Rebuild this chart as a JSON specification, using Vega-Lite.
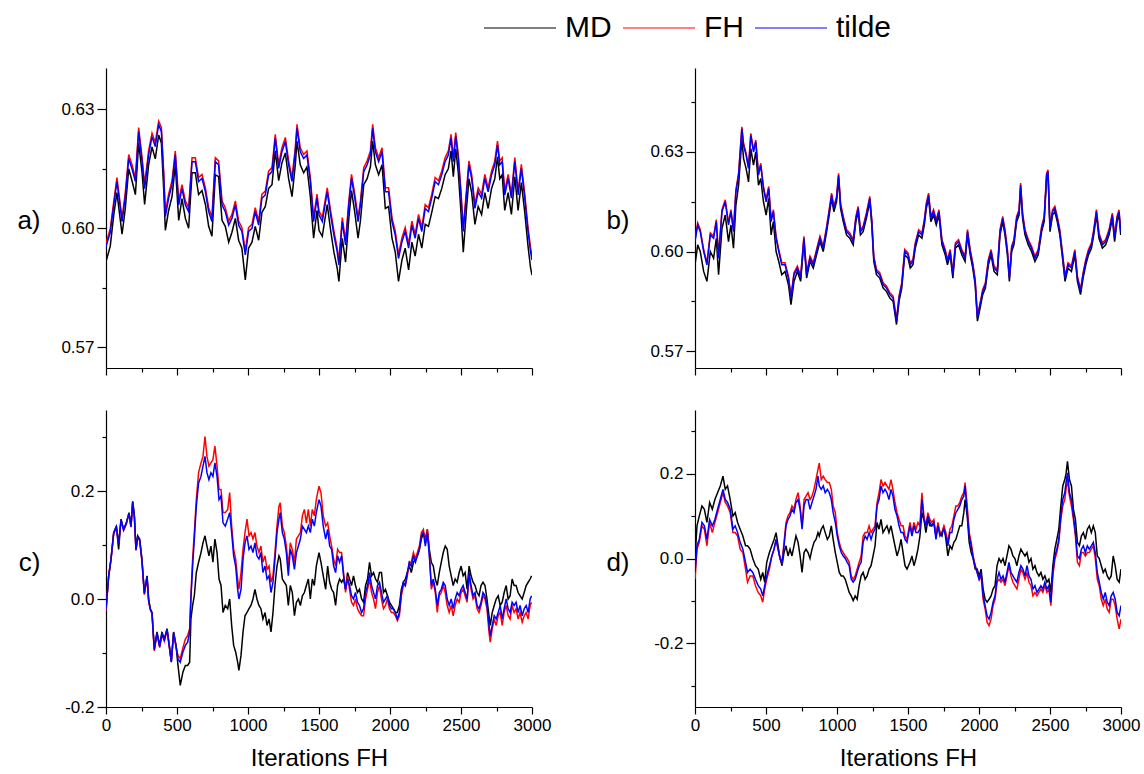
{
"$schema":"https://vega.github.io/schema/vega-lite/v6.json",
"padding":{"left":16,"top":13,"right":5,"bottom":0},
"bounds":"flush",
"columns":2,
"spacing":{"row":42,"column":163},
"config":{"font":"Liberation Sans","view":{"stroke":null},
"axis":{"domainColor":"#000000","tickColor":"#000000","labelColor":"#000000","titleColor":"#000000","grid":false,"domainWidth":1.2,"tickWidth":1.2,"labelFont":"Liberation Sans","titleFont":"Liberation Sans","labelFontSize":17,"titleFontWeight":"normal","labelFlush":false,"labelOverlap":false,"labelBound":false},
"legend":{"orient":"none","legendX":399,"legendY":-55,"direction":"horizontal","symbolType":"M-3,0L3,0","symbolSize":576,"symbolStrokeWidth":1,"labelFontSize":30,"labelFont":"Liberation Sans","labelColor":"#000000","labelOffset":30,"columnPadding":9,"padding":0}},
"datasets":{
"a":[{"x":0,"MD":0.5916,"FH":0.5962,"tilde":0.5954},{"x":30,"MD":0.5955,"FH":0.5999,"tilde":0.599},{"x":55,"MD":0.6035,"FH":0.6068,"tilde":0.606},{"x":77,"MD":0.609,"FH":0.6128,"tilde":0.6118},{"x":113,"MD":0.5985,"FH":0.6025,"tilde":0.6017},{"x":136,"MD":0.605,"FH":0.609,"tilde":0.608},{"x":160,"MD":0.615,"FH":0.6186,"tilde":0.6176},{"x":183,"MD":0.612,"FH":0.616,"tilde":0.615},{"x":207,"MD":0.6085,"FH":0.6127,"tilde":0.6118},{"x":230,"MD":0.6215,"FH":0.6254,"tilde":0.6244},{"x":254,"MD":0.614,"FH":0.6178,"tilde":0.6168},{"x":272,"MD":0.606,"FH":0.611,"tilde":0.61},{"x":300,"MD":0.616,"FH":0.6195,"tilde":0.6185},{"x":324,"MD":0.6205,"FH":0.624,"tilde":0.6231},{"x":347,"MD":0.6175,"FH":0.6216,"tilde":0.6206},{"x":371,"MD":0.6235,"FH":0.627,"tilde":0.6261},{"x":390,"MD":0.6215,"FH":0.6254,"tilde":0.6244},{"x":406,"MD":0.61,"FH":0.6144,"tilde":0.6134},{"x":418,"MD":0.5995,"FH":0.604,"tilde":0.603},{"x":441,"MD":0.6045,"FH":0.6086,"tilde":0.6076},{"x":465,"MD":0.608,"FH":0.612,"tilde":0.611},{"x":488,"MD":0.616,"FH":0.6195,"tilde":0.6185},{"x":512,"MD":0.602,"FH":0.6069,"tilde":0.6059},{"x":535,"MD":0.6075,"FH":0.611,"tilde":0.61},{"x":559,"MD":0.6025,"FH":0.6069,"tilde":0.6059},{"x":582,"MD":0.6,"FH":0.6052,"tilde":0.6042},{"x":606,"MD":0.614,"FH":0.6178,"tilde":0.6168},{"x":629,"MD":0.614,"FH":0.6178,"tilde":0.6168},{"x":652,"MD":0.6085,"FH":0.6128,"tilde":0.6118},{"x":676,"MD":0.6095,"FH":0.6136,"tilde":0.6126},{"x":700,"MD":0.606,"FH":0.6102,"tilde":0.6092},{"x":723,"MD":0.6005,"FH":0.6052,"tilde":0.6042},{"x":746,"MD":0.598,"FH":0.6027,"tilde":0.6017},{"x":770,"MD":0.6135,"FH":0.6178,"tilde":0.6168},{"x":793,"MD":0.613,"FH":0.617,"tilde":0.616},{"x":817,"MD":0.602,"FH":0.6069,"tilde":0.6059},{"x":840,"MD":0.6005,"FH":0.6052,"tilde":0.6042},{"x":864,"MD":0.5965,"FH":0.6018,"tilde":0.6008},{"x":887,"MD":0.599,"FH":0.6035,"tilde":0.6025},{"x":911,"MD":0.6025,"FH":0.6069,"tilde":0.6059},{"x":934,"MD":0.597,"FH":0.6018,"tilde":0.6008},{"x":957,"MD":0.595,"FH":0.6002,"tilde":0.5992},{"x":981,"MD":0.587,"FH":0.5943,"tilde":0.5933},{"x":1004,"MD":0.595,"FH":0.6002,"tilde":0.5992},{"x":1028,"MD":0.5965,"FH":0.601,"tilde":0.6},{"x":1051,"MD":0.6005,"FH":0.6052,"tilde":0.6042},{"x":1075,"MD":0.597,"FH":0.6018,"tilde":0.6008},{"x":1098,"MD":0.604,"FH":0.6086,"tilde":0.6076},{"x":1122,"MD":0.6055,"FH":0.6094,"tilde":0.6084},{"x":1145,"MD":0.61,"FH":0.6144,"tilde":0.6134},{"x":1169,"MD":0.611,"FH":0.6153,"tilde":0.6143},{"x":1192,"MD":0.6195,"FH":0.6237,"tilde":0.6227},{"x":1216,"MD":0.612,"FH":0.6161,"tilde":0.6151},{"x":1239,"MD":0.6165,"FH":0.6203,"tilde":0.6193},{"x":1263,"MD":0.619,"FH":0.6229,"tilde":0.6219},{"x":1286,"MD":0.6125,"FH":0.617,"tilde":0.616},{"x":1310,"MD":0.608,"FH":0.6128,"tilde":0.6118},{"x":1333,"MD":0.616,"FH":0.6203,"tilde":0.6193},{"x":1345,"MD":0.622,"FH":0.6262,"tilde":0.6252},{"x":1368,"MD":0.616,"FH":0.6203,"tilde":0.6193},{"x":1392,"MD":0.614,"FH":0.6186,"tilde":0.6176},{"x":1415,"MD":0.6155,"FH":0.6195,"tilde":0.6185},{"x":1439,"MD":0.608,"FH":0.6128,"tilde":0.6118},{"x":1462,"MD":0.5975,"FH":0.6027,"tilde":0.6017},{"x":1486,"MD":0.6045,"FH":0.6086,"tilde":0.6076},{"x":1500,"MD":0.5995,"FH":0.6044,"tilde":0.6034},{"x":1523,"MD":0.598,"FH":0.6027,"tilde":0.6017},{"x":1558,"MD":0.606,"FH":0.6102,"tilde":0.6092},{"x":1582,"MD":0.5995,"FH":0.6044,"tilde":0.6034},{"x":1605,"MD":0.594,"FH":0.5993,"tilde":0.5983},{"x":1628,"MD":0.59,"FH":0.5951,"tilde":0.5941},{"x":1640,"MD":0.5866,"FH":0.5918,"tilde":0.5908},{"x":1664,"MD":0.5975,"FH":0.6027,"tilde":0.6017},{"x":1687,"MD":0.5915,"FH":0.5968,"tilde":0.5958},{"x":1710,"MD":0.6025,"FH":0.6069,"tilde":0.6059},{"x":1729,"MD":0.6095,"FH":0.6136,"tilde":0.6126},{"x":1752,"MD":0.604,"FH":0.6086,"tilde":0.6076},{"x":1775,"MD":0.5975,"FH":0.6027,"tilde":0.6017},{"x":1792,"MD":0.602,"FH":0.6069,"tilde":0.6059},{"x":1815,"MD":0.611,"FH":0.6153,"tilde":0.6143},{"x":1839,"MD":0.6125,"FH":0.617,"tilde":0.616},{"x":1862,"MD":0.6155,"FH":0.6195,"tilde":0.6185},{"x":1878,"MD":0.622,"FH":0.6262,"tilde":0.6252},{"x":1897,"MD":0.616,"FH":0.6203,"tilde":0.6193},{"x":1920,"MD":0.6135,"FH":0.6178,"tilde":0.6168},{"x":1944,"MD":0.616,"FH":0.6203,"tilde":0.6193},{"x":1967,"MD":0.605,"FH":0.6102,"tilde":0.6092},{"x":1990,"MD":0.6055,"FH":0.6102,"tilde":0.6092},{"x":2014,"MD":0.5975,"FH":0.6027,"tilde":0.6017},{"x":2037,"MD":0.594,"FH":0.5993,"tilde":0.5983},{"x":2060,"MD":0.5866,"FH":0.5934,"tilde":0.5924},{"x":2084,"MD":0.592,"FH":0.5976,"tilde":0.5966},{"x":2107,"MD":0.595,"FH":0.6002,"tilde":0.5992},{"x":2131,"MD":0.5895,"FH":0.596,"tilde":0.595},{"x":2154,"MD":0.5965,"FH":0.6018,"tilde":0.6008},{"x":2177,"MD":0.593,"FH":0.5985,"tilde":0.5975},{"x":2201,"MD":0.5985,"FH":0.6035,"tilde":0.6025},{"x":2224,"MD":0.595,"FH":0.6002,"tilde":0.5992},{"x":2248,"MD":0.601,"FH":0.606,"tilde":0.605},{"x":2271,"MD":0.6005,"FH":0.6052,"tilde":0.6042},{"x":2294,"MD":0.604,"FH":0.6086,"tilde":0.6076},{"x":2318,"MD":0.608,"FH":0.6128,"tilde":0.6118},{"x":2341,"MD":0.6075,"FH":0.612,"tilde":0.611},{"x":2364,"MD":0.61,"FH":0.6144,"tilde":0.6134},{"x":2388,"MD":0.6135,"FH":0.6178,"tilde":0.6168},{"x":2411,"MD":0.615,"FH":0.6195,"tilde":0.6185},{"x":2430,"MD":0.6195,"FH":0.6237,"tilde":0.6227},{"x":2446,"MD":0.613,"FH":0.6178,"tilde":0.6168},{"x":2463,"MD":0.62,"FH":0.6241,"tilde":0.6231},{"x":2481,"MD":0.614,"FH":0.6186,"tilde":0.6176},{"x":2498,"MD":0.605,"FH":0.6102,"tilde":0.6092},{"x":2516,"MD":0.594,"FH":0.6002,"tilde":0.5992},{"x":2540,"MD":0.6055,"FH":0.6102,"tilde":0.6092},{"x":2556,"MD":0.6125,"FH":0.617,"tilde":0.616},{"x":2575,"MD":0.609,"FH":0.6136,"tilde":0.6126},{"x":2598,"MD":0.601,"FH":0.606,"tilde":0.605},{"x":2621,"MD":0.6055,"FH":0.6102,"tilde":0.6092},{"x":2645,"MD":0.6035,"FH":0.6086,"tilde":0.6076},{"x":2668,"MD":0.609,"FH":0.6136,"tilde":0.6126},{"x":2691,"MD":0.605,"FH":0.6102,"tilde":0.6092},{"x":2715,"MD":0.61,"FH":0.6144,"tilde":0.6134},{"x":2738,"MD":0.6125,"FH":0.617,"tilde":0.616},{"x":2757,"MD":0.618,"FH":0.622,"tilde":0.621},{"x":2773,"MD":0.6125,"FH":0.617,"tilde":0.616},{"x":2790,"MD":0.6135,"FH":0.6178,"tilde":0.6168},{"x":2808,"MD":0.6045,"FH":0.6094,"tilde":0.6084},{"x":2832,"MD":0.609,"FH":0.6136,"tilde":0.6126},{"x":2855,"MD":0.6035,"FH":0.6086,"tilde":0.6076},{"x":2879,"MD":0.613,"FH":0.6178,"tilde":0.6168},{"x":2902,"MD":0.6045,"FH":0.6094,"tilde":0.6084},{"x":2925,"MD":0.6115,"FH":0.6161,"tilde":0.6151},{"x":2949,"MD":0.604,"FH":0.6086,"tilde":0.6076},{"x":2972,"MD":0.5955,"FH":0.6002,"tilde":0.5992},{"x":2990,"MD":0.59,"FH":0.5951,"tilde":0.5941},{"x":3000,"MD":0.5882,"FH":0.593,"tilde":0.592}],
"b":[{"x":0,"MD":0.596,"FH":0.6036,"tilde":0.603},{"x":19,"MD":0.602,"FH":0.6086,"tilde":0.608},{"x":37,"MD":0.6,"FH":0.6066,"tilde":0.606},{"x":61,"MD":0.594,"FH":0.6006,"tilde":0.6},{"x":84,"MD":0.591,"FH":0.5966,"tilde":0.596},{"x":108,"MD":0.6,"FH":0.6056,"tilde":0.605},{"x":131,"MD":0.598,"FH":0.6046,"tilde":0.604},{"x":150,"MD":0.604,"FH":0.6096,"tilde":0.609},{"x":166,"MD":0.593,"FH":0.5986,"tilde":0.598},{"x":190,"MD":0.607,"FH":0.6126,"tilde":0.612},{"x":213,"MD":0.611,"FH":0.6156,"tilde":0.615},{"x":236,"MD":0.603,"FH":0.6086,"tilde":0.608},{"x":253,"MD":0.608,"FH":0.6126,"tilde":0.612},{"x":271,"MD":0.601,"FH":0.6066,"tilde":0.606},{"x":288,"MD":0.614,"FH":0.6186,"tilde":0.618},{"x":307,"MD":0.62,"FH":0.6236,"tilde":0.623},{"x":330,"MD":0.634,"FH":0.6376,"tilde":0.637},{"x":342,"MD":0.628,"FH":0.6326,"tilde":0.632},{"x":360,"MD":0.625,"FH":0.6296,"tilde":0.629},{"x":377,"MD":0.621,"FH":0.6256,"tilde":0.625},{"x":393,"MD":0.631,"FH":0.6356,"tilde":0.635},{"x":412,"MD":0.626,"FH":0.6306,"tilde":0.63},{"x":428,"MD":0.63,"FH":0.6336,"tilde":0.633},{"x":447,"MD":0.62,"FH":0.6236,"tilde":0.623},{"x":463,"MD":0.622,"FH":0.6266,"tilde":0.626},{"x":482,"MD":0.615,"FH":0.6196,"tilde":0.619},{"x":501,"MD":0.611,"FH":0.6156,"tilde":0.615},{"x":519,"MD":0.616,"FH":0.6196,"tilde":0.619},{"x":536,"MD":0.605,"FH":0.6096,"tilde":0.609},{"x":552,"MD":0.609,"FH":0.6126,"tilde":0.612},{"x":571,"MD":0.6,"FH":0.6046,"tilde":0.604},{"x":590,"MD":0.597,"FH":0.6006,"tilde":0.6},{"x":611,"MD":0.593,"FH":0.5966,"tilde":0.596},{"x":634,"MD":0.594,"FH":0.5966,"tilde":0.596},{"x":658,"MD":0.59,"FH":0.5926,"tilde":0.592},{"x":676,"MD":0.584,"FH":0.5866,"tilde":0.586},{"x":697,"MD":0.591,"FH":0.5936,"tilde":0.593},{"x":721,"MD":0.594,"FH":0.5956,"tilde":0.595},{"x":744,"MD":0.591,"FH":0.5926,"tilde":0.592},{"x":767,"MD":0.603,"FH":0.6046,"tilde":0.604},{"x":786,"MD":0.592,"FH":0.5936,"tilde":0.593},{"x":810,"MD":0.597,"FH":0.5986,"tilde":0.598},{"x":833,"MD":0.595,"FH":0.5966,"tilde":0.596},{"x":856,"MD":0.599,"FH":0.6006,"tilde":0.6},{"x":880,"MD":0.603,"FH":0.6046,"tilde":0.604},{"x":903,"MD":0.6,"FH":0.6016,"tilde":0.601},{"x":927,"MD":0.606,"FH":0.6076,"tilde":0.607},{"x":945,"MD":0.611,"FH":0.6126,"tilde":0.612},{"x":962,"MD":0.616,"FH":0.6176,"tilde":0.617},{"x":978,"MD":0.612,"FH":0.6136,"tilde":0.613},{"x":997,"MD":0.615,"FH":0.6166,"tilde":0.616},{"x":1011,"MD":0.622,"FH":0.6236,"tilde":0.623},{"x":1025,"MD":0.613,"FH":0.6146,"tilde":0.614},{"x":1044,"MD":0.609,"FH":0.6106,"tilde":0.61},{"x":1067,"MD":0.605,"FH":0.6066,"tilde":0.606},{"x":1090,"MD":0.604,"FH":0.6056,"tilde":0.605},{"x":1114,"MD":0.602,"FH":0.6036,"tilde":0.603},{"x":1133,"MD":0.609,"FH":0.6106,"tilde":0.61},{"x":1149,"MD":0.612,"FH":0.6136,"tilde":0.613},{"x":1165,"MD":0.605,"FH":0.6066,"tilde":0.606},{"x":1184,"MD":0.606,"FH":0.6076,"tilde":0.607},{"x":1207,"MD":0.61,"FH":0.6116,"tilde":0.611},{"x":1231,"MD":0.615,"FH":0.6166,"tilde":0.616},{"x":1245,"MD":0.608,"FH":0.6096,"tilde":0.609},{"x":1259,"MD":0.597,"FH":0.5986,"tilde":0.598},{"x":1278,"MD":0.593,"FH":0.5946,"tilde":0.594},{"x":1301,"MD":0.592,"FH":0.5936,"tilde":0.593},{"x":1325,"MD":0.589,"FH":0.5906,"tilde":0.59},{"x":1348,"MD":0.588,"FH":0.5896,"tilde":0.589},{"x":1372,"MD":0.586,"FH":0.5876,"tilde":0.587},{"x":1395,"MD":0.585,"FH":0.5866,"tilde":0.586},{"x":1419,"MD":0.578,"FH":0.5796,"tilde":0.579},{"x":1437,"MD":0.585,"FH":0.5866,"tilde":0.586},{"x":1456,"MD":0.589,"FH":0.5906,"tilde":0.59},{"x":1477,"MD":0.599,"FH":0.6006,"tilde":0.6},{"x":1500,"MD":0.598,"FH":0.5996,"tilde":0.599},{"x":1516,"MD":0.595,"FH":0.5966,"tilde":0.596},{"x":1535,"MD":0.596,"FH":0.5976,"tilde":0.597},{"x":1551,"MD":0.601,"FH":0.6026,"tilde":0.602},{"x":1575,"MD":0.605,"FH":0.6066,"tilde":0.606},{"x":1598,"MD":0.604,"FH":0.6056,"tilde":0.605},{"x":1615,"MD":0.608,"FH":0.6096,"tilde":0.609},{"x":1629,"MD":0.613,"FH":0.6146,"tilde":0.614},{"x":1645,"MD":0.616,"FH":0.6176,"tilde":0.617},{"x":1661,"MD":0.609,"FH":0.6106,"tilde":0.61},{"x":1680,"MD":0.611,"FH":0.6126,"tilde":0.612},{"x":1699,"MD":0.608,"FH":0.6096,"tilde":0.609},{"x":1718,"MD":0.611,"FH":0.6126,"tilde":0.612},{"x":1739,"MD":0.602,"FH":0.6036,"tilde":0.603},{"x":1762,"MD":0.599,"FH":0.6006,"tilde":0.6},{"x":1778,"MD":0.596,"FH":0.5976,"tilde":0.597},{"x":1797,"MD":0.599,"FH":0.6006,"tilde":0.6},{"x":1816,"MD":0.592,"FH":0.5936,"tilde":0.593},{"x":1834,"MD":0.601,"FH":0.6026,"tilde":0.602},{"x":1856,"MD":0.602,"FH":0.6036,"tilde":0.603},{"x":1879,"MD":0.599,"FH":0.6006,"tilde":0.6},{"x":1902,"MD":0.597,"FH":0.5986,"tilde":0.598},{"x":1919,"MD":0.605,"FH":0.6066,"tilde":0.606},{"x":1938,"MD":0.599,"FH":0.6006,"tilde":0.6},{"x":1956,"MD":0.595,"FH":0.5966,"tilde":0.596},{"x":1973,"MD":0.59,"FH":0.5916,"tilde":0.591},{"x":1989,"MD":0.579,"FH":0.5806,"tilde":0.58},{"x":2008,"MD":0.583,"FH":0.5846,"tilde":0.584},{"x":2026,"MD":0.587,"FH":0.5886,"tilde":0.588},{"x":2045,"MD":0.589,"FH":0.5906,"tilde":0.59},{"x":2066,"MD":0.596,"FH":0.5976,"tilde":0.597},{"x":2085,"MD":0.599,"FH":0.6006,"tilde":0.6},{"x":2106,"MD":0.594,"FH":0.5956,"tilde":0.595},{"x":2129,"MD":0.593,"FH":0.5946,"tilde":0.594},{"x":2148,"MD":0.605,"FH":0.6066,"tilde":0.606},{"x":2167,"MD":0.609,"FH":0.6106,"tilde":0.61},{"x":2183,"MD":0.605,"FH":0.6066,"tilde":0.606},{"x":2200,"MD":0.599,"FH":0.6006,"tilde":0.6},{"x":2214,"MD":0.591,"FH":0.5926,"tilde":0.592},{"x":2230,"MD":0.6,"FH":0.6016,"tilde":0.601},{"x":2246,"MD":0.602,"FH":0.6036,"tilde":0.603},{"x":2265,"MD":0.609,"FH":0.6106,"tilde":0.61},{"x":2282,"MD":0.611,"FH":0.6126,"tilde":0.612},{"x":2293,"MD":0.619,"FH":0.6206,"tilde":0.62},{"x":2307,"MD":0.61,"FH":0.6116,"tilde":0.611},{"x":2324,"MD":0.605,"FH":0.6066,"tilde":0.606},{"x":2347,"MD":0.602,"FH":0.6036,"tilde":0.603},{"x":2370,"MD":0.6,"FH":0.6016,"tilde":0.601},{"x":2394,"MD":0.597,"FH":0.5986,"tilde":0.598},{"x":2417,"MD":0.599,"FH":0.6006,"tilde":0.6},{"x":2441,"MD":0.606,"FH":0.6076,"tilde":0.607},{"x":2459,"MD":0.609,"FH":0.6106,"tilde":0.61},{"x":2476,"MD":0.622,"FH":0.6236,"tilde":0.623},{"x":2486,"MD":0.623,"FH":0.6246,"tilde":0.624},{"x":2500,"MD":0.606,"FH":0.6076,"tilde":0.607},{"x":2518,"MD":0.611,"FH":0.6126,"tilde":0.612},{"x":2534,"MD":0.612,"FH":0.6136,"tilde":0.613},{"x":2551,"MD":0.609,"FH":0.6106,"tilde":0.61},{"x":2569,"MD":0.605,"FH":0.6066,"tilde":0.606},{"x":2588,"MD":0.598,"FH":0.5996,"tilde":0.599},{"x":2606,"MD":0.591,"FH":0.5926,"tilde":0.592},{"x":2627,"MD":0.595,"FH":0.5966,"tilde":0.596},{"x":2651,"MD":0.594,"FH":0.5956,"tilde":0.595},{"x":2675,"MD":0.599,"FH":0.6006,"tilde":0.6},{"x":2693,"MD":0.591,"FH":0.5926,"tilde":0.592},{"x":2715,"MD":0.587,"FH":0.5886,"tilde":0.588},{"x":2733,"MD":0.592,"FH":0.5936,"tilde":0.593},{"x":2752,"MD":0.596,"FH":0.5976,"tilde":0.597},{"x":2771,"MD":0.599,"FH":0.6006,"tilde":0.6},{"x":2792,"MD":0.601,"FH":0.6026,"tilde":0.602},{"x":2808,"MD":0.605,"FH":0.6066,"tilde":0.606},{"x":2827,"MD":0.611,"FH":0.6126,"tilde":0.612},{"x":2845,"MD":0.604,"FH":0.6056,"tilde":0.605},{"x":2869,"MD":0.601,"FH":0.6026,"tilde":0.602},{"x":2892,"MD":0.602,"FH":0.6036,"tilde":0.603},{"x":2916,"MD":0.605,"FH":0.6066,"tilde":0.606},{"x":2939,"MD":0.61,"FH":0.6116,"tilde":0.611},{"x":2955,"MD":0.603,"FH":0.6046,"tilde":0.604},{"x":2972,"MD":0.609,"FH":0.6106,"tilde":0.61},{"x":2986,"MD":0.611,"FH":0.6126,"tilde":0.612},{"x":2998,"MD":0.605,"FH":0.6066,"tilde":0.606}],
"c":[{"x":0,"MD":-0.018,"FH":-0.022,"tilde":-0.02},{"x":19,"MD":0.043,"FH":0.043,"tilde":0.043},{"x":35,"MD":0.074,"FH":0.072,"tilde":0.073},{"x":54,"MD":0.123,"FH":0.12,"tilde":0.122},{"x":73,"MD":0.135,"FH":0.133,"tilde":0.134},{"x":89,"MD":0.092,"FH":0.104,"tilde":0.102},{"x":106,"MD":0.148,"FH":0.146,"tilde":0.147},{"x":124,"MD":0.129,"FH":0.127,"tilde":0.128},{"x":143,"MD":0.141,"FH":0.139,"tilde":0.14},{"x":162,"MD":0.16,"FH":0.158,"tilde":0.159},{"x":176,"MD":0.135,"FH":0.133,"tilde":0.134},{"x":188,"MD":0.181,"FH":0.179,"tilde":0.18},{"x":200,"MD":0.154,"FH":0.15,"tilde":0.152},{"x":211,"MD":0.092,"FH":0.09,"tilde":0.091},{"x":223,"MD":0.117,"FH":0.113,"tilde":0.115},{"x":237,"MD":0.111,"FH":0.108,"tilde":0.11},{"x":253,"MD":0.074,"FH":0.07,"tilde":0.072},{"x":270,"MD":0.012,"FH":0.008,"tilde":0.01},{"x":289,"MD":0.043,"FH":0.04,"tilde":0.042},{"x":300,"MD":0.0,"FH":-0.004,"tilde":-0.002},{"x":312,"MD":-0.018,"FH":-0.02,"tilde":-0.019},{"x":324,"MD":-0.025,"FH":-0.027,"tilde":-0.026},{"x":340,"MD":-0.092,"FH":-0.096,"tilde":-0.094},{"x":359,"MD":-0.061,"FH":-0.065,"tilde":-0.063},{"x":378,"MD":-0.086,"FH":-0.09,"tilde":-0.088},{"x":394,"MD":-0.061,"FH":-0.066,"tilde":-0.064},{"x":411,"MD":-0.074,"FH":-0.078,"tilde":-0.076},{"x":430,"MD":-0.055,"FH":-0.058,"tilde":-0.056},{"x":446,"MD":-0.086,"FH":-0.09,"tilde":-0.088},{"x":460,"MD":-0.117,"FH":-0.115,"tilde":-0.116},{"x":476,"MD":-0.061,"FH":-0.064,"tilde":-0.062},{"x":493,"MD":-0.086,"FH":-0.088,"tilde":-0.087},{"x":507,"MD":-0.123,"FH":-0.105,"tilde":-0.111},{"x":523,"MD":-0.16,"FH":-0.11,"tilde":-0.117},{"x":542,"MD":-0.135,"FH":-0.09,"tilde":-0.098},{"x":559,"MD":-0.123,"FH":-0.074,"tilde":-0.086},{"x":575,"MD":-0.123,"FH":-0.068,"tilde":-0.08},{"x":589,"MD":-0.117,"FH":-0.055,"tilde":-0.061},{"x":598,"MD":-0.037,"FH":0.006,"tilde":0.0},{"x":610,"MD":-0.012,"FH":0.074,"tilde":0.061},{"x":622,"MD":0.006,"FH":0.123,"tilde":0.111},{"x":636,"MD":0.049,"FH":0.184,"tilde":0.172},{"x":652,"MD":0.068,"FH":0.234,"tilde":0.215},{"x":669,"MD":0.086,"FH":0.252,"tilde":0.227},{"x":683,"MD":0.104,"FH":0.264,"tilde":0.246},{"x":697,"MD":0.117,"FH":0.301,"tilde":0.264},{"x":711,"MD":0.098,"FH":0.264,"tilde":0.234},{"x":725,"MD":0.08,"FH":0.246,"tilde":0.221},{"x":739,"MD":0.098,"FH":0.252,"tilde":0.234},{"x":753,"MD":0.068,"FH":0.258,"tilde":0.227},{"x":767,"MD":0.111,"FH":0.283,"tilde":0.252},{"x":782,"MD":0.086,"FH":0.246,"tilde":0.227},{"x":796,"MD":0.037,"FH":0.203,"tilde":0.184},{"x":810,"MD":0.025,"FH":0.203,"tilde":0.191},{"x":824,"MD":-0.025,"FH":0.16,"tilde":0.141},{"x":840,"MD":-0.012,"FH":0.16,"tilde":0.135},{"x":857,"MD":-0.018,"FH":0.166,"tilde":0.148},{"x":871,"MD":0.0,"FH":0.197,"tilde":0.16},{"x":885,"MD":-0.049,"FH":0.135,"tilde":0.123},{"x":899,"MD":-0.086,"FH":0.092,"tilde":0.08},{"x":913,"MD":-0.098,"FH":0.074,"tilde":0.061},{"x":927,"MD":-0.117,"FH":0.037,"tilde":0.018},{"x":936,"MD":-0.132,"FH":0.018,"tilde":0.0},{"x":951,"MD":-0.104,"FH":0.049,"tilde":0.018},{"x":965,"MD":-0.061,"FH":0.092,"tilde":0.074},{"x":979,"MD":-0.031,"FH":0.123,"tilde":0.104},{"x":993,"MD":-0.025,"FH":0.148,"tilde":0.117},{"x":1007,"MD":-0.018,"FH":0.117,"tilde":0.092},{"x":1021,"MD":-0.012,"FH":0.123,"tilde":0.098},{"x":1035,"MD":0.0,"FH":0.111,"tilde":0.086},{"x":1049,"MD":0.018,"FH":0.123,"tilde":0.104},{"x":1063,"MD":0.0,"FH":0.098,"tilde":0.08},{"x":1077,"MD":-0.012,"FH":0.086,"tilde":0.074},{"x":1091,"MD":-0.018,"FH":0.098,"tilde":0.086},{"x":1105,"MD":-0.037,"FH":0.068,"tilde":0.049},{"x":1120,"MD":-0.025,"FH":0.08,"tilde":0.061},{"x":1134,"MD":-0.049,"FH":0.055,"tilde":0.037},{"x":1148,"MD":-0.037,"FH":0.061,"tilde":0.043},{"x":1162,"MD":-0.061,"FH":0.031,"tilde":0.012},{"x":1176,"MD":-0.025,"FH":0.043,"tilde":0.031},{"x":1190,"MD":0.025,"FH":0.086,"tilde":0.074},{"x":1204,"MD":0.061,"FH":0.135,"tilde":0.123},{"x":1218,"MD":0.08,"FH":0.172,"tilde":0.148},{"x":1227,"MD":0.074,"FH":0.178,"tilde":0.16},{"x":1242,"MD":0.037,"FH":0.135,"tilde":0.123},{"x":1256,"MD":0.031,"FH":0.123,"tilde":0.111},{"x":1270,"MD":0.025,"FH":0.098,"tilde":0.086},{"x":1284,"MD":-0.012,"FH":0.061,"tilde":0.043},{"x":1298,"MD":0.025,"FH":0.104,"tilde":0.092},{"x":1312,"MD":0.012,"FH":0.092,"tilde":0.08},{"x":1327,"MD":-0.031,"FH":0.068,"tilde":0.055},{"x":1341,"MD":-0.006,"FH":0.111,"tilde":0.086},{"x":1355,"MD":0.0,"FH":0.117,"tilde":0.098},{"x":1369,"MD":-0.012,"FH":0.123,"tilde":0.111},{"x":1383,"MD":0.006,"FH":0.154,"tilde":0.135},{"x":1397,"MD":0.012,"FH":0.166,"tilde":0.129},{"x":1411,"MD":0.025,"FH":0.141,"tilde":0.123},{"x":1425,"MD":0.037,"FH":0.166,"tilde":0.135},{"x":1439,"MD":0.0,"FH":0.135,"tilde":0.123},{"x":1453,"MD":0.037,"FH":0.166,"tilde":0.148},{"x":1467,"MD":0.025,"FH":0.154,"tilde":0.135},{"x":1481,"MD":0.061,"FH":0.184,"tilde":0.16},{"x":1500,"MD":0.086,"FH":0.209,"tilde":0.184},{"x":1514,"MD":0.068,"FH":0.197,"tilde":0.172},{"x":1530,"MD":0.043,"FH":0.154,"tilde":0.135},{"x":1547,"MD":0.018,"FH":0.135,"tilde":0.111},{"x":1561,"MD":0.061,"FH":0.141,"tilde":0.129},{"x":1575,"MD":0.031,"FH":0.117,"tilde":0.098},{"x":1589,"MD":0.018,"FH":0.098,"tilde":0.092},{"x":1603,"MD":0.012,"FH":0.074,"tilde":0.061},{"x":1617,"MD":-0.012,"FH":0.061,"tilde":0.049},{"x":1631,"MD":0.025,"FH":0.092,"tilde":0.08},{"x":1645,"MD":0.037,"FH":0.086,"tilde":0.068},{"x":1659,"MD":0.031,"FH":0.086,"tilde":0.08},{"x":1673,"MD":0.037,"FH":0.049,"tilde":0.043},{"x":1687,"MD":0.018,"FH":0.012,"tilde":0.018},{"x":1701,"MD":0.049,"FH":0.043,"tilde":0.037},{"x":1715,"MD":0.037,"FH":0.018,"tilde":0.025},{"x":1729,"MD":0.025,"FH":-0.006,"tilde":0.006},{"x":1743,"MD":0.043,"FH":-0.012,"tilde":0.0},{"x":1757,"MD":0.025,"FH":0.0,"tilde":0.012},{"x":1771,"MD":0.012,"FH":-0.018,"tilde":-0.006},{"x":1785,"MD":0.018,"FH":-0.025,"tilde":-0.012},{"x":1800,"MD":0.0,"FH":-0.031,"tilde":-0.025},{"x":1814,"MD":-0.006,"FH":-0.031,"tilde":-0.018},{"x":1828,"MD":0.025,"FH":0.0,"tilde":0.012},{"x":1842,"MD":0.037,"FH":0.018,"tilde":0.025},{"x":1856,"MD":0.068,"FH":0.037,"tilde":0.049},{"x":1870,"MD":0.043,"FH":0.012,"tilde":0.025},{"x":1884,"MD":0.049,"FH":0.0,"tilde":0.012},{"x":1898,"MD":0.037,"FH":-0.018,"tilde":0.0},{"x":1912,"MD":0.031,"FH":0.012,"tilde":0.025},{"x":1926,"MD":0.049,"FH":0.025,"tilde":0.031},{"x":1940,"MD":0.049,"FH":0.0,"tilde":0.012},{"x":1954,"MD":0.012,"FH":-0.018,"tilde":-0.006},{"x":1968,"MD":0.018,"FH":-0.012,"tilde":0.0},{"x":1982,"MD":0.006,"FH":0.0,"tilde":0.006},{"x":1996,"MD":-0.006,"FH":-0.018,"tilde":-0.012},{"x":2010,"MD":-0.012,"FH":-0.025,"tilde":-0.018},{"x":2024,"MD":-0.018,"FH":-0.025,"tilde":-0.018},{"x":2038,"MD":-0.025,"FH":-0.031,"tilde":-0.025},{"x":2052,"MD":-0.025,"FH":-0.04,"tilde":-0.037},{"x":2066,"MD":-0.012,"FH":-0.031,"tilde":-0.025},{"x":2080,"MD":0.018,"FH":0.006,"tilde":0.012},{"x":2094,"MD":0.031,"FH":0.025,"tilde":0.031},{"x":2108,"MD":0.037,"FH":0.025,"tilde":0.025},{"x":2122,"MD":0.049,"FH":0.043,"tilde":0.049},{"x":2136,"MD":0.061,"FH":0.068,"tilde":0.068},{"x":2150,"MD":0.049,"FH":0.068,"tilde":0.061},{"x":2165,"MD":0.068,"FH":0.086,"tilde":0.08},{"x":2179,"MD":0.074,"FH":0.074,"tilde":0.068},{"x":2193,"MD":0.08,"FH":0.086,"tilde":0.08},{"x":2207,"MD":0.092,"FH":0.098,"tilde":0.092},{"x":2221,"MD":0.111,"FH":0.123,"tilde":0.117},{"x":2235,"MD":0.123,"FH":0.129,"tilde":0.123},{"x":2249,"MD":0.111,"FH":0.104,"tilde":0.098},{"x":2263,"MD":0.129,"FH":0.129,"tilde":0.123},{"x":2277,"MD":0.092,"FH":0.086,"tilde":0.08},{"x":2291,"MD":0.068,"FH":0.018,"tilde":0.025},{"x":2305,"MD":0.061,"FH":0.031,"tilde":0.037},{"x":2319,"MD":0.037,"FH":0.012,"tilde":0.018},{"x":2333,"MD":0.025,"FH":-0.025,"tilde":-0.012},{"x":2347,"MD":0.049,"FH":0.006,"tilde":0.012},{"x":2361,"MD":0.068,"FH":0.012,"tilde":0.018},{"x":2375,"MD":0.086,"FH":0.025,"tilde":0.031},{"x":2389,"MD":0.098,"FH":0.012,"tilde":0.025},{"x":2403,"MD":0.092,"FH":-0.012,"tilde":0.0},{"x":2417,"MD":0.061,"FH":-0.025,"tilde":-0.012},{"x":2431,"MD":0.043,"FH":-0.012,"tilde":0.0},{"x":2445,"MD":0.025,"FH":-0.031,"tilde":-0.018},{"x":2459,"MD":0.037,"FH":-0.012,"tilde":0.0},{"x":2473,"MD":0.031,"FH":0.0,"tilde":0.012},{"x":2487,"MD":0.049,"FH":-0.006,"tilde":0.006},{"x":2501,"MD":0.061,"FH":0.012,"tilde":0.018},{"x":2515,"MD":0.043,"FH":0.018,"tilde":0.025},{"x":2529,"MD":0.049,"FH":0.006,"tilde":0.012},{"x":2543,"MD":0.018,"FH":-0.006,"tilde":0.0},{"x":2557,"MD":0.061,"FH":0.043,"tilde":0.049},{"x":2571,"MD":0.043,"FH":0.018,"tilde":0.025},{"x":2585,"MD":0.031,"FH":0.0,"tilde":0.006},{"x":2599,"MD":0.025,"FH":0.006,"tilde":0.012},{"x":2613,"MD":0.012,"FH":-0.018,"tilde":-0.012},{"x":2627,"MD":0.006,"FH":-0.025,"tilde":-0.018},{"x":2641,"MD":0.025,"FH":-0.012,"tilde":-0.006},{"x":2655,"MD":0.031,"FH":0.006,"tilde":0.012},{"x":2669,"MD":0.025,"FH":0.0,"tilde":0.006},{"x":2683,"MD":0.0,"FH":-0.018,"tilde":-0.012},{"x":2697,"MD":-0.031,"FH":-0.061,"tilde":-0.049},{"x":2706,"MD":-0.049,"FH":-0.08,"tilde":-0.068},{"x":2720,"MD":-0.025,"FH":-0.055,"tilde":-0.049},{"x":2734,"MD":-0.012,"FH":-0.037,"tilde":-0.031},{"x":2748,"MD":0.0,"FH":-0.049,"tilde":-0.037},{"x":2762,"MD":0.006,"FH":-0.031,"tilde":-0.025},{"x":2776,"MD":-0.012,"FH":-0.025,"tilde":-0.012},{"x":2790,"MD":-0.006,"FH":-0.049,"tilde":-0.037},{"x":2804,"MD":0.012,"FH":-0.025,"tilde":-0.018},{"x":2818,"MD":0.025,"FH":-0.012,"tilde":0.0},{"x":2832,"MD":0.0,"FH":-0.031,"tilde":-0.018},{"x":2846,"MD":0.006,"FH":-0.037,"tilde":-0.025},{"x":2860,"MD":0.037,"FH":-0.012,"tilde":-0.006},{"x":2874,"MD":0.025,"FH":-0.025,"tilde":-0.012},{"x":2888,"MD":0.025,"FH":-0.018,"tilde":-0.006},{"x":2902,"MD":0.012,"FH":-0.037,"tilde":-0.025},{"x":2916,"MD":0.006,"FH":-0.025,"tilde":-0.012},{"x":2931,"MD":0.0,"FH":-0.043,"tilde":-0.031},{"x":2945,"MD":0.012,"FH":-0.031,"tilde":-0.018},{"x":2959,"MD":0.025,"FH":-0.025,"tilde":-0.012},{"x":2973,"MD":0.031,"FH":-0.037,"tilde":-0.025},{"x":2987,"MD":0.037,"FH":-0.012,"tilde":0.0},{"x":2997,"MD":0.043,"FH":-0.006,"tilde":0.006}],
"d":[{"x":0,"MD":0.0,"FH":-0.049,"tilde":-0.033},{"x":14,"MD":0.077,"FH":0.022,"tilde":0.03},{"x":30,"MD":0.1,"FH":0.038,"tilde":0.045},{"x":49,"MD":0.124,"FH":0.077,"tilde":0.085},{"x":66,"MD":0.116,"FH":0.069,"tilde":0.077},{"x":84,"MD":0.085,"FH":0.03,"tilde":0.045},{"x":103,"MD":0.132,"FH":0.085,"tilde":0.092},{"x":122,"MD":0.116,"FH":0.061,"tilde":0.077},{"x":140,"MD":0.139,"FH":0.085,"tilde":0.092},{"x":159,"MD":0.155,"FH":0.108,"tilde":0.116},{"x":178,"MD":0.171,"FH":0.132,"tilde":0.139},{"x":197,"MD":0.194,"FH":0.155,"tilde":0.163},{"x":213,"MD":0.163,"FH":0.132,"tilde":0.139},{"x":229,"MD":0.171,"FH":0.124,"tilde":0.132},{"x":248,"MD":0.139,"FH":0.108,"tilde":0.116},{"x":267,"MD":0.1,"FH":0.061,"tilde":0.069},{"x":283,"MD":0.108,"FH":0.061,"tilde":0.077},{"x":300,"MD":0.085,"FH":0.053,"tilde":0.061},{"x":318,"MD":0.069,"FH":0.022,"tilde":0.038},{"x":337,"MD":0.053,"FH":0.014,"tilde":0.022},{"x":356,"MD":0.03,"FH":-0.025,"tilde":-0.009},{"x":370,"MD":0.03,"FH":-0.056,"tilde":-0.033},{"x":388,"MD":0.022,"FH":-0.041,"tilde":-0.025},{"x":407,"MD":0.0,"FH":-0.041,"tilde":-0.033},{"x":426,"MD":-0.017,"FH":-0.064,"tilde":-0.049},{"x":445,"MD":-0.025,"FH":-0.08,"tilde":-0.064},{"x":463,"MD":-0.049,"FH":-0.088,"tilde":-0.072},{"x":477,"MD":-0.033,"FH":-0.103,"tilde":-0.088},{"x":491,"MD":-0.056,"FH":-0.072,"tilde":-0.064},{"x":505,"MD":-0.009,"FH":-0.049,"tilde":-0.041},{"x":524,"MD":0.014,"FH":-0.025,"tilde":-0.017},{"x":541,"MD":0.03,"FH":0.006,"tilde":0.006},{"x":557,"MD":0.045,"FH":0.022,"tilde":0.022},{"x":571,"MD":0.061,"FH":0.045,"tilde":0.045},{"x":585,"MD":0.03,"FH":0.022,"tilde":0.022},{"x":599,"MD":0.0,"FH":0.0,"tilde":0.0},{"x":613,"MD":-0.017,"FH":-0.009,"tilde":-0.009},{"x":627,"MD":0.014,"FH":0.038,"tilde":0.03},{"x":641,"MD":0.03,"FH":0.085,"tilde":0.077},{"x":655,"MD":0.006,"FH":0.1,"tilde":0.092},{"x":669,"MD":0.022,"FH":0.108,"tilde":0.1},{"x":683,"MD":0.006,"FH":0.124,"tilde":0.116},{"x":697,"MD":0.03,"FH":0.116,"tilde":0.108},{"x":711,"MD":0.053,"FH":0.139,"tilde":0.132},{"x":726,"MD":0.038,"FH":0.155,"tilde":0.139},{"x":740,"MD":0.006,"FH":0.124,"tilde":0.116},{"x":754,"MD":-0.033,"FH":0.077,"tilde":0.069},{"x":768,"MD":0.014,"FH":0.139,"tilde":0.124},{"x":782,"MD":0.022,"FH":0.147,"tilde":0.139},{"x":796,"MD":0.014,"FH":0.155,"tilde":0.139},{"x":810,"MD":0.0,"FH":0.139,"tilde":0.116},{"x":824,"MD":0.022,"FH":0.147,"tilde":0.132},{"x":838,"MD":0.038,"FH":0.163,"tilde":0.147},{"x":852,"MD":0.045,"FH":0.186,"tilde":0.163},{"x":866,"MD":0.061,"FH":0.21,"tilde":0.194},{"x":875,"MD":0.053,"FH":0.225,"tilde":0.171},{"x":889,"MD":0.069,"FH":0.186,"tilde":0.163},{"x":903,"MD":0.077,"FH":0.194,"tilde":0.171},{"x":917,"MD":0.061,"FH":0.186,"tilde":0.155},{"x":932,"MD":0.045,"FH":0.179,"tilde":0.163},{"x":946,"MD":0.053,"FH":0.179,"tilde":0.155},{"x":960,"MD":0.077,"FH":0.163,"tilde":0.139},{"x":973,"MD":0.045,"FH":0.124,"tilde":0.108},{"x":988,"MD":0.014,"FH":0.108,"tilde":0.085},{"x":1002,"MD":-0.009,"FH":0.061,"tilde":0.053},{"x":1016,"MD":-0.033,"FH":0.038,"tilde":0.03},{"x":1030,"MD":-0.041,"FH":0.022,"tilde":0.014},{"x":1044,"MD":-0.041,"FH":0.014,"tilde":0.006},{"x":1058,"MD":-0.049,"FH":0.006,"tilde":0.0},{"x":1072,"MD":-0.064,"FH":0.0,"tilde":-0.009},{"x":1086,"MD":-0.08,"FH":-0.009,"tilde":-0.017},{"x":1100,"MD":-0.088,"FH":-0.041,"tilde":-0.049},{"x":1114,"MD":-0.099,"FH":-0.049,"tilde":-0.056},{"x":1128,"MD":-0.088,"FH":-0.041,"tilde":-0.049},{"x":1142,"MD":-0.096,"FH":-0.025,"tilde":-0.033},{"x":1156,"MD":-0.064,"FH":-0.009,"tilde":-0.017},{"x":1170,"MD":-0.041,"FH":0.006,"tilde":-0.009},{"x":1184,"MD":-0.033,"FH":0.053,"tilde":0.038},{"x":1198,"MD":-0.049,"FH":0.061,"tilde":0.053},{"x":1212,"MD":-0.041,"FH":0.061,"tilde":0.045},{"x":1226,"MD":-0.025,"FH":0.077,"tilde":0.061},{"x":1240,"MD":-0.017,"FH":0.061,"tilde":0.045},{"x":1254,"MD":0.006,"FH":0.069,"tilde":0.061},{"x":1268,"MD":0.03,"FH":0.077,"tilde":0.069},{"x":1282,"MD":0.085,"FH":0.132,"tilde":0.124},{"x":1296,"MD":0.069,"FH":0.155,"tilde":0.139},{"x":1310,"MD":0.092,"FH":0.186,"tilde":0.171},{"x":1324,"MD":0.061,"FH":0.171,"tilde":0.155},{"x":1338,"MD":0.069,"FH":0.179,"tilde":0.163},{"x":1352,"MD":0.077,"FH":0.171,"tilde":0.155},{"x":1366,"MD":0.061,"FH":0.163,"tilde":0.139},{"x":1380,"MD":0.077,"FH":0.186,"tilde":0.163},{"x":1394,"MD":0.053,"FH":0.163,"tilde":0.147},{"x":1408,"MD":0.03,"FH":0.132,"tilde":0.116},{"x":1423,"MD":0.006,"FH":0.108,"tilde":0.1},{"x":1437,"MD":0.022,"FH":0.092,"tilde":0.077},{"x":1451,"MD":0.045,"FH":0.077,"tilde":0.061},{"x":1465,"MD":0.014,"FH":0.077,"tilde":0.061},{"x":1479,"MD":-0.017,"FH":0.053,"tilde":0.045},{"x":1493,"MD":-0.025,"FH":0.045,"tilde":0.038},{"x":1514,"MD":-0.009,"FH":0.085,"tilde":0.077},{"x":1528,"MD":0.006,"FH":0.061,"tilde":0.053},{"x":1542,"MD":-0.017,"FH":0.085,"tilde":0.077},{"x":1556,"MD":0.0,"FH":0.069,"tilde":0.061},{"x":1570,"MD":0.022,"FH":0.085,"tilde":0.061},{"x":1584,"MD":0.053,"FH":0.077,"tilde":0.069},{"x":1598,"MD":0.108,"FH":0.155,"tilde":0.139},{"x":1612,"MD":0.092,"FH":0.1,"tilde":0.092},{"x":1626,"MD":0.061,"FH":0.077,"tilde":0.077},{"x":1640,"MD":0.092,"FH":0.108,"tilde":0.1},{"x":1654,"MD":0.077,"FH":0.092,"tilde":0.085},{"x":1668,"MD":0.077,"FH":0.085,"tilde":0.077},{"x":1682,"MD":0.085,"FH":0.092,"tilde":0.085},{"x":1697,"MD":0.053,"FH":0.053,"tilde":0.045},{"x":1711,"MD":0.077,"FH":0.085,"tilde":0.077},{"x":1725,"MD":0.061,"FH":0.061,"tilde":0.053},{"x":1739,"MD":0.053,"FH":0.061,"tilde":0.061},{"x":1753,"MD":0.077,"FH":0.077,"tilde":0.069},{"x":1767,"MD":0.045,"FH":0.061,"tilde":0.053},{"x":1781,"MD":0.006,"FH":0.038,"tilde":0.03},{"x":1795,"MD":0.03,"FH":0.069,"tilde":0.061},{"x":1809,"MD":0.022,"FH":0.077,"tilde":0.061},{"x":1823,"MD":0.038,"FH":0.1,"tilde":0.092},{"x":1837,"MD":0.045,"FH":0.124,"tilde":0.108},{"x":1851,"MD":0.061,"FH":0.124,"tilde":0.116},{"x":1865,"MD":0.077,"FH":0.132,"tilde":0.124},{"x":1879,"MD":0.077,"FH":0.147,"tilde":0.139},{"x":1893,"MD":0.108,"FH":0.155,"tilde":0.147},{"x":1902,"MD":0.139,"FH":0.179,"tilde":0.171},{"x":1917,"MD":0.1,"FH":0.124,"tilde":0.108},{"x":1931,"MD":0.038,"FH":0.061,"tilde":0.053},{"x":1945,"MD":0.014,"FH":0.038,"tilde":0.03},{"x":1959,"MD":0.0,"FH":0.006,"tilde":0.0},{"x":1973,"MD":-0.025,"FH":-0.017,"tilde":-0.017},{"x":1987,"MD":-0.025,"FH":-0.033,"tilde":-0.033},{"x":2001,"MD":-0.041,"FH":-0.049,"tilde":-0.049},{"x":2015,"MD":-0.025,"FH":-0.041,"tilde":-0.033},{"x":2029,"MD":-0.072,"FH":-0.096,"tilde":-0.088},{"x":2043,"MD":-0.096,"FH":-0.119,"tilde":-0.111},{"x":2057,"MD":-0.103,"FH":-0.15,"tilde":-0.135},{"x":2071,"MD":-0.096,"FH":-0.158,"tilde":-0.143},{"x":2085,"MD":-0.088,"FH":-0.143,"tilde":-0.127},{"x":2099,"MD":-0.072,"FH":-0.111,"tilde":-0.103},{"x":2113,"MD":-0.064,"FH":-0.096,"tilde":-0.088},{"x":2127,"MD":-0.017,"FH":-0.056,"tilde":-0.049},{"x":2141,"MD":0.0,"FH":-0.049,"tilde":-0.033},{"x":2155,"MD":-0.009,"FH":-0.056,"tilde":-0.049},{"x":2169,"MD":0.0,"FH":-0.049,"tilde":-0.041},{"x":2183,"MD":-0.017,"FH":-0.064,"tilde":-0.056},{"x":2197,"MD":0.006,"FH":-0.041,"tilde":-0.033},{"x":2211,"MD":0.03,"FH":-0.017,"tilde":-0.009},{"x":2225,"MD":0.022,"FH":-0.041,"tilde":-0.033},{"x":2239,"MD":0.006,"FH":-0.056,"tilde":-0.041},{"x":2253,"MD":0.0,"FH":-0.064,"tilde":-0.049},{"x":2267,"MD":-0.017,"FH":-0.072,"tilde":-0.056},{"x":2281,"MD":0.006,"FH":-0.049,"tilde":-0.033},{"x":2295,"MD":0.022,"FH":-0.025,"tilde":-0.017},{"x":2309,"MD":0.014,"FH":-0.033,"tilde":-0.025},{"x":2324,"MD":0.006,"FH":-0.049,"tilde":-0.041},{"x":2338,"MD":0.014,"FH":-0.033,"tilde":-0.017},{"x":2352,"MD":-0.009,"FH":-0.056,"tilde":-0.041},{"x":2366,"MD":0.0,"FH":-0.064,"tilde":-0.049},{"x":2380,"MD":-0.025,"FH":-0.088,"tilde":-0.072},{"x":2394,"MD":-0.017,"FH":-0.08,"tilde":-0.064},{"x":2408,"MD":-0.033,"FH":-0.088,"tilde":-0.08},{"x":2422,"MD":-0.041,"FH":-0.08,"tilde":-0.072},{"x":2436,"MD":-0.033,"FH":-0.072,"tilde":-0.064},{"x":2450,"MD":-0.049,"FH":-0.08,"tilde":-0.072},{"x":2464,"MD":-0.041,"FH":-0.064,"tilde":-0.056},{"x":2478,"MD":-0.056,"FH":-0.08,"tilde":-0.072},{"x":2492,"MD":-0.049,"FH":-0.072,"tilde":-0.064},{"x":2506,"MD":-0.08,"FH":-0.111,"tilde":-0.103},{"x":2520,"MD":-0.017,"FH":-0.041,"tilde":-0.033},{"x":2534,"MD":0.022,"FH":-0.002,"tilde":0.006},{"x":2548,"MD":0.045,"FH":0.014,"tilde":0.022},{"x":2562,"MD":0.069,"FH":0.038,"tilde":0.045},{"x":2576,"MD":0.124,"FH":0.092,"tilde":0.1},{"x":2590,"MD":0.171,"FH":0.124,"tilde":0.139},{"x":2604,"MD":0.186,"FH":0.139,"tilde":0.155},{"x":2613,"MD":0.2,"FH":0.163,"tilde":0.179},{"x":2623,"MD":0.229,"FH":0.186,"tilde":0.202},{"x":2637,"MD":0.186,"FH":0.147,"tilde":0.155},{"x":2651,"MD":0.171,"FH":0.124,"tilde":0.139},{"x":2665,"MD":0.116,"FH":0.092,"tilde":0.1},{"x":2679,"MD":0.092,"FH":0.053,"tilde":0.061},{"x":2693,"MD":0.038,"FH":-0.009,"tilde":0.006},{"x":2707,"MD":0.03,"FH":-0.017,"tilde":0.0},{"x":2721,"MD":0.053,"FH":0.014,"tilde":0.022},{"x":2735,"MD":0.061,"FH":0.014,"tilde":0.03},{"x":2749,"MD":0.045,"FH":0.006,"tilde":0.014},{"x":2763,"MD":0.069,"FH":0.014,"tilde":0.03},{"x":2777,"MD":0.077,"FH":0.014,"tilde":0.022},{"x":2791,"MD":0.061,"FH":0.022,"tilde":0.03},{"x":2805,"MD":0.077,"FH":0.03,"tilde":0.038},{"x":2819,"MD":0.061,"FH":0.0,"tilde":0.014},{"x":2833,"MD":0.006,"FH":-0.049,"tilde":-0.033},{"x":2847,"MD":0.0,"FH":-0.064,"tilde":-0.056},{"x":2861,"MD":-0.017,"FH":-0.096,"tilde":-0.08},{"x":2875,"MD":-0.033,"FH":-0.111,"tilde":-0.096},{"x":2889,"MD":-0.025,"FH":-0.096,"tilde":-0.08},{"x":2903,"MD":-0.041,"FH":-0.119,"tilde":-0.103},{"x":2917,"MD":-0.049,"FH":-0.127,"tilde":-0.111},{"x":2931,"MD":-0.041,"FH":-0.096,"tilde":-0.088},{"x":2945,"MD":0.006,"FH":-0.096,"tilde":-0.08},{"x":2959,"MD":-0.017,"FH":-0.111,"tilde":-0.096},{"x":2973,"MD":-0.049,"FH":-0.143,"tilde":-0.127},{"x":2987,"MD":-0.056,"FH":-0.166,"tilde":-0.135},{"x":3000,"MD":-0.025,"FH":-0.143,"tilde":-0.111}]
},
"concat":[
{"width":426,"height":300,"data":{"name":"a"},"transform":[{"fold":["MD","FH","tilde"],"as":["series","value"]}],
"mark":{"type":"line","strokeWidth":1.5,"clip":true},
"encoding":{
"x":{"field":"x","type":"quantitative","scale":{"domain":[0,3000],"nice":false},"axis":{"values":[0,250,500,750,1000,1250,1500,1750,2000,2250,2500,2750,3000],"labels":false,"title":null,"tickSize":{"condition":{"test":"datum.value % 500 === 0","value":7},"value":4}}},
"y":{"field":"value","type":"quantitative","scale":{"domain":[0.5648,0.6404],"nice":false,"zero":false},"axis":{"values":[0.57,0.585,0.6,0.615,0.63],"labelExpr":"(abs(datum.value-0.57)<1e-6||abs(datum.value-0.6)<1e-6||abs(datum.value-0.63)<1e-6) ? format(datum.value,'.2f') : ''","tickSize":{"condition":{"test":"abs(datum.value-0.57)<1e-6||abs(datum.value-0.6)<1e-6||abs(datum.value-0.63)<1e-6","value":9},"value":4},"labelPadding":3,"title":"a)","titleAngle":0,"titleAlign":"right","titleBaseline":"middle","titleX":-66,"titleY":152,"titleFontSize":26}},
"color":{"field":"series","type":"nominal","scale":{"domain":["MD","FH","tilde"],"range":["#000000","#ff0000","#0000ff"]},"legend":{"title":null}}}},
{"width":426,"height":300,"data":{"name":"b"},"transform":[{"fold":["MD","FH","tilde"],"as":["series","value"]}],
"mark":{"type":"line","strokeWidth":1.5,"clip":true},
"encoding":{
"x":{"field":"x","type":"quantitative","scale":{"domain":[0,3000],"nice":false},"axis":{"values":[0,250,500,750,1000,1250,1500,1750,2000,2250,2500,2750,3000],"labels":false,"title":null,"tickSize":{"condition":{"test":"datum.value % 500 === 0","value":7},"value":4}}},
"y":{"field":"value","type":"quantitative","scale":{"domain":[0.5649,0.6553],"nice":false,"zero":false},"axis":{"values":[0.57,0.585,0.6,0.615,0.63,0.645],"labelExpr":"(abs(datum.value-0.57)<1e-6||abs(datum.value-0.6)<1e-6||abs(datum.value-0.63)<1e-6) ? format(datum.value,'.2f') : ''","tickSize":{"condition":{"test":"abs(datum.value-0.57)<1e-6||abs(datum.value-0.6)<1e-6||abs(datum.value-0.63)<1e-6","value":9},"value":4},"labelPadding":3,"title":"b)","titleAngle":0,"titleAlign":"right","titleBaseline":"middle","titleX":-66,"titleY":152,"titleFontSize":26}},
"color":{"field":"series","type":"nominal","scale":{"domain":["MD","FH","tilde"],"range":["#000000","#ff0000","#0000ff"]},"legend":{"title":null}}}},
{"width":426,"height":297,"data":{"name":"c"},"transform":[{"fold":["MD","FH","tilde"],"as":["series","value"]}],
"mark":{"type":"line","strokeWidth":1.5,"clip":true},
"encoding":{
"x":{"field":"x","type":"quantitative","scale":{"domain":[0,3000],"nice":false},"axis":{"values":[0,250,500,750,1000,1250,1500,1750,2000,2250,2500,2750,3000],"labelExpr":"datum.value % 500 === 0 ? format(datum.value,'d') : ''","labelPadding":3,"title":"Iterations FH","titleFontSize":24,"titleY":58,"titleBaseline":"alphabetic","tickSize":{"condition":{"test":"datum.value % 500 === 0","value":7},"value":4}}},
"y":{"field":"value","type":"quantitative","scale":{"domain":[-0.2,0.35],"nice":false,"zero":false},"axis":{"values":[-0.2,-0.1,0,0.1,0.2,0.3],"labelExpr":"(abs(datum.value)<1e-6||abs(abs(datum.value)-0.2)<1e-6) ? replace(format(datum.value,'.1f'),'\u2212','-') : ''","tickSize":{"condition":{"test":"abs(datum.value)<1e-6||abs(abs(datum.value)-0.2)<1e-6","value":9},"value":4},"labelPadding":3,"title":"c)","titleAngle":0,"titleAlign":"right","titleBaseline":"middle","titleX":-66,"titleY":152,"titleFontSize":26}},
"color":{"field":"series","type":"nominal","scale":{"domain":["MD","FH","tilde"],"range":["#000000","#ff0000","#0000ff"]},"legend":{"title":null}}}},
{"width":426,"height":297,"data":{"name":"d"},"transform":[{"fold":["MD","FH","tilde"],"as":["series","value"]}],
"mark":{"type":"line","strokeWidth":1.5,"clip":true},
"encoding":{
"x":{"field":"x","type":"quantitative","scale":{"domain":[0,3000],"nice":false},"axis":{"values":[0,250,500,750,1000,1250,1500,1750,2000,2250,2500,2750,3000],"labelExpr":"datum.value % 500 === 0 ? format(datum.value,'d') : ''","labelPadding":3,"title":"Iterations FH","titleFontSize":24,"titleY":58,"titleBaseline":"alphabetic","tickSize":{"condition":{"test":"datum.value % 500 === 0","value":7},"value":4}}},
"y":{"field":"value","type":"quantitative","scale":{"domain":[-0.35,0.35],"nice":false,"zero":false},"axis":{"values":[-0.3,-0.2,-0.1,0,0.1,0.2,0.3],"labelExpr":"(abs(datum.value)<1e-6||abs(abs(datum.value)-0.2)<1e-6) ? replace(format(datum.value,'.1f'),'\u2212','-') : ''","tickSize":{"condition":{"test":"abs(datum.value)<1e-6||abs(abs(datum.value)-0.2)<1e-6","value":9},"value":4},"labelPadding":3,"title":"d)","titleAngle":0,"titleAlign":"right","titleBaseline":"middle","titleX":-66,"titleY":152,"titleFontSize":26}},
"color":{"field":"series","type":"nominal","scale":{"domain":["MD","FH","tilde"],"range":["#000000","#ff0000","#0000ff"]},"legend":{"title":null}}}}
]
}
